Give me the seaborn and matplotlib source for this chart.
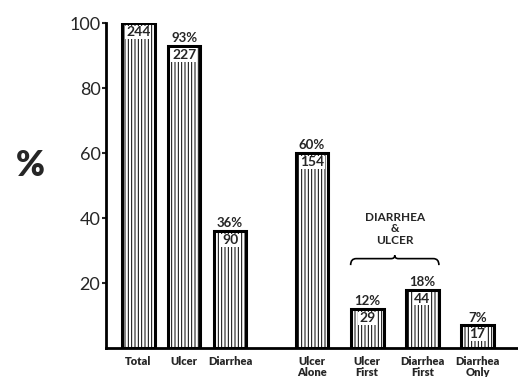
import numpy as np
import pandas as pd
import seaborn as sns
import matplotlib.pyplot as plt
from matplotlib.path import Path
from matplotlib.patches import PathPatch

sns.set_style("white")
plt.rcParams.update({'font.family': ['Lato', 'DejaVu Sans'],
                     'hatch.linewidth': 0.7})

# data
categories = ["Total", "Ulcer", "Diarrhea", "Ulcer\nAlone", "Ulcer\nFirst",
              "Diarrhea\nFirst", "Diarrhea\nOnly"]
percents = [100, 93, 36, 60, 12, 18, 7]
counts = [244, 227, 90, 154, 29, 44, 17]
yticks = [20, 40, 60, 80, 100]

# layout: first group of 3 bars, second group of 4 a bit wider apart
pos = np.r_[np.arange(3) * 1.0, 3.78 + np.arange(4) * 1.2]

df = pd.DataFrame({'pos': pos, 'pct': percents, 'n': counts,
                   'label': categories})

fig = plt.figure(figsize=(5.18, 3.77), dpi=100)
ax = fig.add_axes([106 / 518, 29 / 377, 1 - 106 / 518, (348 - 23) / 377])

sns.barplot(data=df, x='pos', y='pct', native_scale=True, ax=ax,
            color='white', saturation=1, width=0.71, edgecolor='black',
            linewidth=2.2, hatch='|||||')

for x, p, n in zip(df['pos'], df['pct'], df['n']):
    ax.text(x, p - 1.0, str(n), ha='center', va='top', fontsize=10,
            fontweight='bold',
            bbox=dict(boxstyle='square,pad=0.05', fc='white', ec='none'))
    if p < 100:
        ax.text(x, p + 0.5, f"{p}%", ha='center', va='bottom', fontsize=9.5,
                fontweight='bold')

# brace over "Ulcer First" and "Diarrhea First"
x0 = pos[4] - 0.36
x1 = pos[5] + 0.36
xm = (x0 + x1) / 2
yb = 27.5
verts = [(x0, yb - 2.0), (x0, yb), (x0 + 0.12, yb),
         (xm - 0.08, yb), (xm, yb), (xm, yb + 1.0),
         (xm, yb), (xm + 0.08, yb),
         (x1 - 0.12, yb), (x1, yb), (x1, yb - 2.0)]
codes = [Path.MOVETO, Path.CURVE3, Path.CURVE3,
         Path.LINETO, Path.CURVE3, Path.CURVE3,
         Path.CURVE3, Path.CURVE3,
         Path.LINETO, Path.CURVE3, Path.CURVE3]
ax.add_patch(PathPatch(Path(verts, codes), fc='none', ec='black', lw=1.2))
ax.text(xm, 31.5, "DIARRHEA\n&\nULCER", ha='center', va='bottom',
        fontsize=8.5, fontweight='bold', linespacing=1.05)

ax.set_xlim(-0.70, 8.26)
ax.set_ylim(0, 100)
ax.set_yticks(yticks)
ax.set_yticklabels([str(t) for t in yticks], fontsize=13)
ax.set_xticks(pos)
ax.set_xticklabels(categories, fontsize=8, fontweight='heavy',
                   linespacing=1.0, va='top')
ax.tick_params(axis='y', direction='out', length=3, width=1.5, pad=1,
               left=True)
ax.tick_params(axis='x', length=0, pad=6)
ax.set_xlabel("")
ax.set_ylabel("")
sns.despine(ax=ax)
for s in ['left', 'bottom']:
    ax.spines[s].set_linewidth(2)
    ax.spines[s].set_color('black')

fig.text(30 / 518, 1 - 165 / 377, "%", fontsize=25, fontweight='heavy',
         ha='center', va='center')

fig.savefig('out.png', dpi=100)
